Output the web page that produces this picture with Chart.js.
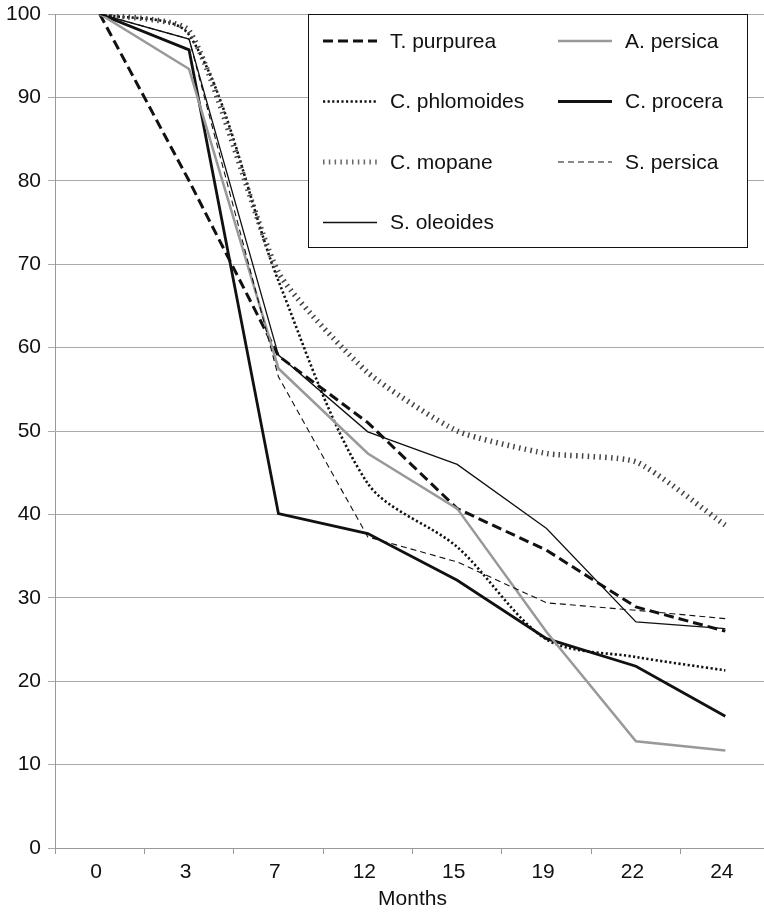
<!DOCTYPE html>
<html>
<head>
<meta charset="utf-8">
<script src="https://cdn.jsdelivr.net/npm/chart.js@4/dist/chart.umd.min.js"></script>
<style>
html,body{margin:0;padding:0;background:#fff;overflow:hidden;width:764px;height:913px;}
canvas{display:block;}
</style>
</head>
<body>
<canvas id="c" width="772" height="913" style="width:772px;height:913px"></canvas>
<script>
const months = ['0','3','7','12','15','19','22','24'];
const yTicks = [0,10,20,30,40,50,60,70,80,90,100];

const tPurpurea   = [100, 80.0, 59.0, 51.0, 40.7, 35.7, 28.9, 26.0];
const aPersica    = [100, 93.4, 57.5, 47.3, 40.7, 25.9, 12.8, 11.7];
const cPhlomoides = [100, 97.5, 68.0, 43.7, 36.1, 25.0, 22.9, 21.3];
const cProcera    = [100, 95.7, 40.1, 37.7, 32.1, 25.1, 21.8, 15.8];
const cMopane     = [100, 98.0, 69.0, 57.0, 50.0, 47.3, 46.3, 38.7];
const sPersica    = [100, 97.0, 56.5, 37.3, 34.3, 29.4, 28.5, 27.5];
const sOleoides   = [100, 97.0, 59.1, 49.9, 46.0, 38.3, 27.1, 26.3];

const FONT = '"Liberation Sans", Arial, Helvetica, sans-serif';
const FS = 21;

function ds(label, data, color, width, dash, tension) {
  return {label, data, borderColor: color, borderWidth: width, borderDash: dash,
          borderCapStyle: 'butt', borderJoinStyle: 'miter',
          pointRadius: 0, pointHoverRadius: 0, fill: false, tension: tension || 0};
}

const datasets = [
  ds('S. persica', sPersica, '#111', 1.1, [6,4]),
  ds('S. oleoides', sOleoides, '#111', 1.3, []),
  ds('A. persica', aPersica, '#999', 2.5, []),
  ds('C. mopane', cMopane, '#444', 5.5, [1.5,4.3], 0.18),
  ds('C. phlomoides', cPhlomoides, '#111', 2.6, [2.2,2.4], 0.3),
  ds('C. procera', cProcera, '#111', 2.8, []),
  ds('T. purpurea', tPurpurea, '#111', 3, [10,5])
];

const legendOrder = ['T. purpurea','A. persica','C. phlomoides','C. procera','C. mopane','S. persica','S. oleoides'];

const legendBox = {
  id: 'legendBox',
  afterDraw(chart) {
    const ctx = chart.ctx;
    const a = chart.chartArea;
    const x0 = a.left + 253, y0 = a.top, w = 439, h = 233;
    ctx.save();
    ctx.fillStyle = '#fff';
    ctx.fillRect(x0, y0, w, h);
    ctx.strokeStyle = '#111';
    ctx.lineWidth = 1;
    ctx.strokeRect(x0 + 0.5, y0 + 0.5, w, h);
    ctx.font = FS + 'px ' + FONT;
    ctx.textBaseline = 'middle';
    ctx.textAlign = 'left';
    legendOrder.forEach((name, i) => {
      const d = chart.data.datasets.find(s => s.label === name);
      const col = i % 2, row = Math.floor(i / 2);
      const lx = col === 0 ? x0 + 15 : x0 + 250;
      const ly = y0 + 27 + row * 60.5;
      const lw = 54;
      ctx.save();
      ctx.strokeStyle = name === 'C. mopane' ? '#666' : d.borderColor;
      ctx.lineWidth = name === 'C. mopane' ? 5 : d.borderWidth;
      ctx.setLineDash(d.borderDash || []);
      ctx.lineCap = 'butt';
      ctx.beginPath();
      ctx.moveTo(lx, ly);
      ctx.lineTo(lx + lw, ly);
      ctx.stroke();
      ctx.restore();
      ctx.fillStyle = '#111';
      ctx.fillText(name, lx + 67, ly + 1);
    });
    ctx.restore();
  }
};

new Chart(document.getElementById('c'), {
  type: 'line',
  data: { labels: months, datasets },
  plugins: [legendBox],
  options: {
    responsive: false,
    animation: false,
    devicePixelRatio: 1,
    layout: { padding: { top: 14, right: 2, bottom: 0, left: 0 } },
    plugins: { legend: { display: false }, tooltip: { enabled: false } },
    scales: {
      x: {
        type: 'category',
        offset: true,
        grid: { offset: true, drawOnChartArea: false, drawTicks: true, tickLength: 6, color: '#999', lineWidth: 1 },
        border: { display: true, color: '#999', width: 1 },
        ticks: { color: '#111', font: { family: FONT, size: FS }, padding: 6, maxRotation: 0, autoSkip: false, labelOffset: -3.5 },
        title: { display: true, text: 'Months', color: '#111', font: { family: FONT, size: FS }, padding: { top: 0, bottom: 1 } },
        afterFit(scale) { scale.height = 65; scale.paddingLeft = 0; scale.paddingRight = 0; }
      },
      y: {
        min: 0, max: 100,
        afterBuildTicks(scale) { scale.ticks = yTicks.map(v => ({ value: v })); },
        grid: { color: '#aaa', lineWidth: 1, drawTicks: true, tickLength: 7 },
        border: { display: true, color: '#999', width: 1 },
        ticks: { color: '#111', font: { family: FONT, size: FS }, padding: 7 },
        afterFit(scale) { scale.width = 55; scale.paddingTop = 0; scale.paddingBottom = 0; }
      }
    }
  }
});
</script>
</body>
</html>
